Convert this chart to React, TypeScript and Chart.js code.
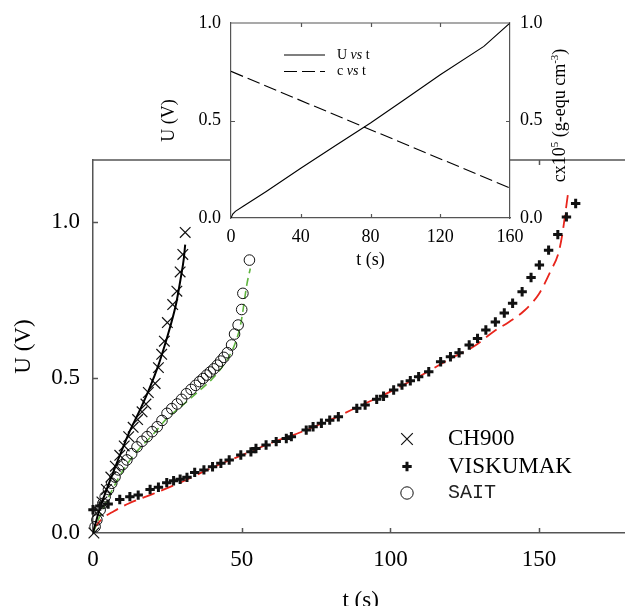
import React, { useEffect, useRef } from 'react';
import { Chart, registerables } from 'chart.js';

Chart.register(...registerables);

const SERIF = "'Liberation Serif', 'Times New Roman', serif";
const MONO = "'Liberation Mono', 'Courier New', monospace";
const AXIS = '#555';
const INK = '#111';

// ---------- main chart axes ----------
const xTicks = [0, 50, 100, 150];
const yTicks = [0, 0.5, 1.0];
const X_MAX = 180;
const Y_MAX = 1.2;

// ---------- CH900 (x markers) ----------
const ch900T = [0.3, 1.8, 3.0, 4.5, 6.0, 7.5, 9.0, 10.5, 12.0, 13.5, 15.0, 16.5, 17.8, 18.6, 20.9, 22.0, 23.1, 24.0, 25.0, 26.8, 28.2, 29.3, 30.2, 31.0];
const ch900U = [0.0, 0.07, 0.1, 0.14, 0.18, 0.215, 0.25, 0.28, 0.31, 0.34, 0.365, 0.39, 0.415, 0.452, 0.481, 0.532, 0.575, 0.617, 0.677, 0.735, 0.778, 0.84, 0.896, 0.967];
const ch900FitT = [0, 2, 4, 8, 12, 16, 19, 22, 24, 26, 28, 29.5, 30.5, 31];
const ch900FitU = [0, 0.07, 0.125, 0.225, 0.32, 0.4, 0.465, 0.54, 0.6, 0.665, 0.74, 0.82, 0.88, 0.928];

// ---------- VISKUMAK (+ markers) ----------
const viskT = [0, 2.3, 5.1, 9.0, 12.4, 15.2, 19.2, 22.0, 24.8, 27.1, 29.3, 31.6, 34.2, 37.3, 40.2, 43.0, 45.8, 49.7, 53.1, 54.8, 58.2, 61.6, 65.0, 66.7, 71.7, 74.0, 76.8, 79.6, 82.5, 88.7, 91.5, 95.4, 97.7, 101.1, 103.9, 106.7, 109.5, 112.9, 116.9, 120.2, 123.1, 126.5, 129.3, 132.1, 135.3, 138.3, 141.1, 144.3, 147.3, 150.1, 153.2, 156.3, 159.2, 162.3];
const viskU = [0.075, 0.087, 0.093, 0.108, 0.117, 0.122, 0.14, 0.147, 0.162, 0.168, 0.173, 0.179, 0.195, 0.203, 0.213, 0.224, 0.235, 0.251, 0.261, 0.272, 0.283, 0.294, 0.304, 0.31, 0.331, 0.342, 0.353, 0.363, 0.374, 0.401, 0.412, 0.43, 0.44, 0.46, 0.476, 0.49, 0.503, 0.519, 0.551, 0.567, 0.58, 0.605, 0.626, 0.653, 0.679, 0.708, 0.739, 0.776, 0.822, 0.862, 0.91, 0.96, 1.017, 1.06];
const viskFitT = [0, 3, 7, 12, 20, 30, 40, 50, 60, 70, 80, 90, 100, 110, 120, 128, 135, 140, 145, 150, 154, 156.5, 157.8, 158.7, 159.7];
const viskFitU = [0.01, 0.045, 0.07, 0.095, 0.125, 0.165, 0.21, 0.25, 0.29, 0.325, 0.365, 0.41, 0.455, 0.505, 0.56, 0.6, 0.65, 0.68, 0.715, 0.77, 0.845, 0.9, 0.96, 1.02, 1.09];

// ---------- SAIT (o markers) ----------
const saitT = [0.7, 1.3, 2.4, 3.3, 4.1, 5.2, 6.3, 7.4, 8.6, 10.0, 11.4, 13.0, 14.8, 16.5, 18.2, 19.9, 21.6, 23.2, 24.9, 26.5, 28.3, 29.8, 31.4, 33.0, 34.5, 35.8, 37.0, 38.2, 39.4, 40.6, 41.8, 42.9, 44.0, 45.2, 46.6, 47.6, 48.8, 50.0, 50.4, 52.6];
const saitU = [0.02, 0.042, 0.074, 0.095, 0.117, 0.14, 0.16, 0.18, 0.203, 0.22, 0.235, 0.255, 0.277, 0.295, 0.31, 0.326, 0.342, 0.362, 0.385, 0.4, 0.415, 0.43, 0.448, 0.462, 0.475, 0.487, 0.497, 0.508, 0.518, 0.528, 0.54, 0.553, 0.565, 0.58, 0.605, 0.64, 0.669, 0.719, 0.771, 0.878];
const saitFitT = [0, 3, 6, 10, 15, 20, 25, 30, 35, 40, 45, 48, 49.7, 51.8, 52.9];
const saitFitU = [0, 0.07, 0.13, 0.2, 0.265, 0.315, 0.37, 0.41, 0.452, 0.495, 0.556, 0.615, 0.674, 0.803, 0.851];

// ---------- inset ----------
const insetXTicks = [0, 40, 80, 120, 160];
const insetYTicks = [0, 0.5, 1.0];
const insetUT = [0, 1, 2.5, 7, 20, 40, 60, 80, 100, 120, 145, 160];
const insetUV = [0, 0.02, 0.034, 0.06, 0.135, 0.255, 0.372, 0.487, 0.61, 0.735, 0.88, 1.0];
const insetCT = [0, 160];
const insetCV = [0.752, 0.154];

const legendNames = ['CH900', 'VISKUMAK', 'SAIT'];

const xy = (t: number[], u: number[]) => t.map((v, i) => ({ x: v, y: u[i] }));
const fmt1 = (v: any) => Number(v).toFixed(1);

function drawMarker(ctx: CanvasRenderingContext2D, kind: string, x: number, y: number) {
  ctx.save();
  ctx.strokeStyle = INK;
  ctx.beginPath();
  if (kind === 'x') {
    const r = 5.8;
    ctx.lineWidth = 1.2;
    ctx.moveTo(x - r, y - r); ctx.lineTo(x + r, y + r);
    ctx.moveTo(x - r, y + r); ctx.lineTo(x + r, y - r);
  } else if (kind === '+') {
    const r = 4.7;
    ctx.lineWidth = 3;
    ctx.moveTo(x - r, y); ctx.lineTo(x + r, y);
    ctx.moveTo(x, y - r); ctx.lineTo(x, y + r);
  } else {
    ctx.lineWidth = 1;
    ctx.arc(x, y, 6.2, 0, Math.PI * 2);
  }
  ctx.stroke();
  ctx.restore();
}

const mainDecor = {
  id: 'mainDecor',
  afterDraw(chart: any) {
    const { ctx, chartArea: a, scales } = chart;
    const x = scales.x, y = scales.y;
    ctx.save();
    ctx.strokeStyle = AXIS;
    ctx.lineWidth = 1.5;
    ctx.beginPath();
    ctx.moveTo(a.left, a.top); ctx.lineTo(a.right, a.top);
    for (const v of xTicks) {
      if (v === 0) continue;
      const px = Math.round(x.getPixelForValue(v)) + 0.5;
      ctx.moveTo(px, a.bottom); ctx.lineTo(px, a.bottom - 5);
      ctx.moveTo(px, a.top); ctx.lineTo(px, a.top + 5);
    }
    for (const v of yTicks) {
      if (v === 0) continue;
      const py = Math.round(y.getPixelForValue(v)) + 0.5;
      ctx.moveTo(a.left, py); ctx.lineTo(a.left + 5, py);
    }
    ctx.stroke();

    // legend
    const lx = a.left + 314, tx = a.left + 355;
    const rows = [a.top + 279, a.top + 306.5, a.top + 333];
    const kinds = ['x', '+', 'o'];
    rows.forEach((ry, i) => {
      drawMarker(ctx, kinds[i], lx, ry);
      ctx.fillStyle = i === 2 ? '#222' : '#000';
      ctx.textBaseline = 'middle';
      ctx.textAlign = 'left';
      ctx.font = i === 2 ? `20px ${MONO}` : `23px ${SERIF}`;
      ctx.fillText(legendNames[i], tx, ry);
    });
    ctx.restore();
  },
};

const insetDecor = {
  id: 'insetDecor',
  beforeDraw(chart: any) {
    const { ctx, chartArea: a } = chart;
    ctx.save();
    ctx.fillStyle = '#fff';
    ctx.fillRect(a.left, a.top, a.right - a.left, a.bottom - a.top);
    ctx.restore();
  },
  afterDraw(chart: any) {
    const { ctx, chartArea: a, scales } = chart;
    const x = scales.x, y = scales.y;
    ctx.save();
    ctx.strokeStyle = AXIS;
    ctx.lineWidth = 1.2;
    ctx.beginPath();
    ctx.moveTo(a.left, a.top); ctx.lineTo(a.right, a.top);
    for (const v of insetXTicks) {
      if (v === 0 || v === 160) continue;
      const px = Math.round(x.getPixelForValue(v)) + 0.5;
      ctx.moveTo(px, a.bottom); ctx.lineTo(px, a.bottom - 4);
      ctx.moveTo(px, a.top); ctx.lineTo(px, a.top + 4);
    }
    for (const v of insetYTicks) {
      if (v === 0 || v === 1) continue;
      const py = Math.round(y.getPixelForValue(v)) + 0.5;
      ctx.moveTo(a.left, py); ctx.lineTo(a.left + 4, py);
      ctx.moveTo(a.right, py); ctx.lineTo(a.right - 4, py);
    }
    ctx.stroke();

    // inset legend
    ctx.strokeStyle = '#000';
    ctx.lineWidth = 1.1;
    const l0 = a.left + 53, l1 = a.left + 94;
    const r1 = a.top + 32, r2 = a.top + 48.5;
    ctx.beginPath();
    ctx.moveTo(l0, r1); ctx.lineTo(l1, r1);
    ctx.stroke();
    ctx.setLineDash([13, 5]);
    ctx.beginPath();
    ctx.moveTo(l0, r2); ctx.lineTo(l1, r2);
    ctx.stroke();
    ctx.setLineDash([]);
    ctx.fillStyle = '#000';
    ctx.textBaseline = 'middle';
    ctx.textAlign = 'left';
    const drawLeg = (first: string, yy: number) => {
      let px = a.left + 106;
      ctx.font = `14px ${SERIF}`;
      ctx.fillText(first + ' ', px, yy);
      px += ctx.measureText(first + ' ').width;
      ctx.font = `italic 14px ${SERIF}`;
      ctx.fillText('vs', px, yy);
      px += ctx.measureText('vs').width;
      ctx.font = `14px ${SERIF}`;
      ctx.fillText(' t', px, yy);
    };
    drawLeg('U', r1);
    drawLeg('c', r2);

    // right axis title with superscripts
    const segs: [string, boolean][] = [['cx10', false], ['5', true], [' (g-equ cm', false], ['-3', true], [')', false]];
    const big = `18px ${SERIF}`, small = `11px ${SERIF}`;
    let total = 0;
    for (const [s, sup] of segs) { ctx.font = sup ? small : big; total += ctx.measureText(s).width; }
    ctx.translate(a.right + 55, (a.top + a.bottom) / 2 - 5);
    ctx.rotate(-Math.PI / 2);
    ctx.textBaseline = 'alphabetic';
    let cx = -total / 2;
    for (const [s, sup] of segs) {
      ctx.font = sup ? small : big;
      ctx.fillText(s, cx, sup ? -7 : 0);
      cx += ctx.measureText(s).width;
    }
    ctx.restore();
  },
};

const MAIN_W = 637;

export default function App() {
  const mainRef = useRef<HTMLCanvasElement>(null);
  const insetRef = useRef<HTMLCanvasElement>(null);

  useEffect(() => {
    const tickFont = { family: SERIF, size: 23 };
    const main = new Chart(mainRef.current as HTMLCanvasElement, {
      type: 'scatter',
      data: {
        datasets: [
          {
            label: 'VISKUMAK',
            data: xy(viskT, viskU),
            pointStyle: 'cross',
            pointRadius: 4.7,
            pointBorderWidth: 3,
            borderColor: INK,
            backgroundColor: INK,
            showLine: false,
            clip: false,
          } as any,
          {
            label: 'CH900 fit',
            data: xy(ch900FitT, ch900FitU),
            showLine: true,
            borderColor: '#000',
            borderWidth: 2,
            pointRadius: 0,
            cubicInterpolationMode: 'monotone',
          },
          {
            label: 'CH900',
            data: xy(ch900T, ch900U),
            pointStyle: 'crossRot',
            pointRadius: 7.5,
            pointBorderWidth: 1.2,
            borderColor: INK,
            showLine: false,
            clip: false,
          } as any,
          {
            label: 'SAIT',
            data: xy(saitT, saitU),
            pointStyle: 'circle',
            pointRadius: 5.3,
            pointBorderWidth: 1,
            borderColor: INK,
            backgroundColor: 'rgba(0,0,0,0)',
            showLine: false,
            clip: false,
          } as any,
          {
            label: 'SAIT fit',
            data: xy(saitFitT, saitFitU),
            showLine: true,
            borderColor: '#5fb53f',
            borderWidth: 1.6,
            borderDash: [8, 5],
            pointRadius: 0,
            cubicInterpolationMode: 'monotone',
          },
          {
            label: 'VISKUMAK fit',
            data: xy(viskFitT, viskFitU),
            showLine: true,
            borderColor: '#e8251c',
            borderWidth: 1.8,
            borderDash: [13, 7],
            pointRadius: 0,
            cubicInterpolationMode: 'monotone',
          },
        ],
      },
      options: {
        animation: false,
        responsive: false,
        events: [],
        layout: { padding: { top: 160, left: 0, right: 0, bottom: 0 } },
        plugins: { legend: { display: false }, tooltip: { enabled: false } },
        scales: {
          x: {
            type: 'linear',
            min: 0,
            max: X_MAX,
            afterBuildTicks: (s: any) => { s.ticks = xTicks.map((v) => ({ value: v })); },
            ticks: { font: tickFont, color: '#000', padding: 13, maxRotation: 0 },
            grid: { display: false, drawTicks: false },
            border: { display: true, color: AXIS, width: 1.5 },
            title: { display: true, text: 't (s)', font: tickFont, color: '#000', padding: { top: 0, bottom: -9 } },
            afterFit: (s: any) => { s.height = 73; },
          },
          y: {
            type: 'linear',
            min: 0,
            max: Y_MAX,
            afterBuildTicks: (s: any) => { s.ticks = yTicks.map((v) => ({ value: v })); },
            ticks: { font: tickFont, color: '#000', padding: 13, callback: fmt1 },
            grid: { display: false, drawTicks: false },
            border: { display: true, color: AXIS, width: 1.5 },
            title: { display: true, text: 'U (V)', font: tickFont, color: '#000', padding: { top: 10, bottom: 0 } },
            afterFit: (s: any) => { s.width = 93; },
          },
        },
      } as any,
      plugins: [mainDecor],
    });

    const insetFont = { family: SERIF, size: 18 };
    const inset = new Chart(insetRef.current as HTMLCanvasElement, {
      type: 'scatter',
      data: {
        datasets: [
          {
            label: 'U vs t',
            data: xy(insetUT, insetUV),
            showLine: true,
            borderColor: '#000',
            borderWidth: 1.1,
            pointRadius: 0,
            yAxisID: 'y',
          },
          {
            label: 'c vs t',
            data: xy(insetCT, insetCV),
            showLine: true,
            borderColor: '#000',
            borderWidth: 1.1,
            borderDash: [13, 5],
            pointRadius: 0,
            yAxisID: 'y2',
          },
        ],
      },
      options: {
        animation: false,
        responsive: false,
        events: [],
        layout: { padding: { top: 23, left: 0, right: 0, bottom: 0 } },
        plugins: { legend: { display: false }, tooltip: { enabled: false } },
        scales: {
          x: {
            type: 'linear',
            min: 0,
            max: 160,
            afterBuildTicks: (s: any) => { s.ticks = insetXTicks.map((v) => ({ value: v })); },
            ticks: { font: insetFont, color: '#000', padding: 8, maxRotation: 0 },
            grid: { display: false, drawTicks: false },
            border: { display: true, color: AXIS, width: 1.2 },
            title: { display: true, text: 't (s)', font: insetFont, color: '#000', padding: { top: 0, bottom: 9 } },
            afterFit: (s: any) => { s.height = 62; },
          },
          y: {
            type: 'linear',
            position: 'left',
            min: 0,
            max: 1,
            afterBuildTicks: (s: any) => { s.ticks = insetYTicks.map((v) => ({ value: v })); },
            ticks: { font: insetFont, color: '#000', padding: 10, callback: fmt1 },
            grid: { display: false, drawTicks: false },
            border: { display: true, color: AXIS, width: 1.2 },
            title: { display: true, text: 'U (V)', font: insetFont, color: '#000', padding: { top: 8, bottom: 0 } },
            afterFit: (s: any) => { s.width = 81; },
          },
          y2: {
            type: 'linear',
            position: 'right',
            min: 0,
            max: 1,
            afterBuildTicks: (s: any) => { s.ticks = insetYTicks.map((v) => ({ value: v })); },
            ticks: { font: insetFont, color: '#000', padding: 10, callback: fmt1 },
            grid: { display: false, drawTicks: false },
            border: { display: true, color: AXIS, width: 1.2 },
            afterFit: (s: any) => { s.width = 80; },
          },
        },
      } as any,
      plugins: [insetDecor],
    });

    return () => {
      main.destroy();
      inset.destroy();
    };
  }, []);

  return (
    <div style={{ position: 'absolute', left: 0, top: 0, width: 625, height: 606, background: '#fff', overflow: 'hidden' }}>
      <canvas ref={mainRef} width={MAIN_W} height={606} style={{ position: 'absolute', left: 0, top: 0, width: MAIN_W, height: 606 }} />
      <canvas ref={insetRef} width={440} height={280} style={{ position: 'absolute', left: 150, top: 0, width: 440, height: 280 }} />
    </div>
  );
}
